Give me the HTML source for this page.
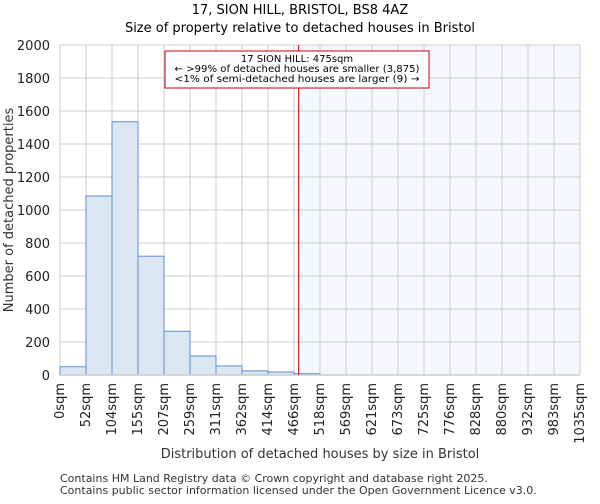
<!DOCTYPE html>
<html><head><meta charset="utf-8"><style>
body{margin:0;background:#fff;font-family:"DejaVu Sans","Liberation Sans",sans-serif}
</style></head><body>
<svg id="c" width="600" height="500" xmlns="http://www.w3.org/2000/svg" font-family="DejaVu Sans, Liberation Sans, sans-serif"></svg>
<script>
const edges=[0,52,104,155,207,259,311,362,414,466,518,569,621,673,725,776,828,880,932,983,1035];
const counts=[50,1085,1535,720,265,115,55,25,18,8,0,0,0,0,0,0,0,0,0,0];
const yTicks=[0,200,400,600,800,1000,1200,1400,1600,1800,2000];
const marker=475;
const NS="http://www.w3.org/2000/svg";
const svg=document.getElementById('c');
const L=60,R=580,T=45,B=375,nb=20;
const xb=i=>L+i*(R-L)/nb;
const xv=v=>L+v/1035*(R-L);
const y=v=>B-v/2000*(B-T);
function mk(t,a,txt){const e=document.createElementNS(NS,t);for(const k in a)e.setAttribute(k,a[k]);if(txt!==undefined)e.textContent=txt;svg.appendChild(e);return e;}
let e;
e=mk('rect',{x:xv(marker),y:T,width:R-xv(marker),height:B-T,fill:'#f4f7fd'});


yTicks.forEach(v=>{e=mk('line',{x1:L,x2:R,y1:y(v),y2:y(v),stroke:'#cccccc','stroke-width':1});


e=mk('text',{x:L-10,y:y(v)+5,'text-anchor':'end','font-size':13,fill:'#222'},v);

});
for(let i=0;i<=nb;i++){e=mk('line',{x1:xb(i),x2:xb(i),y1:T,y2:B,stroke:'#cccccc','stroke-width':1});

}
counts.forEach((c,i)=>{if(c<=0)return;e=mk('rect',{x:xb(i),y:y(c),width:xb(i+1)-xb(i),height:B-y(c),fill:'#dce6f3',stroke:'#5b8fd6','stroke-width':1});

});
e=mk('line',{x1:L,x2:R,y1:B,y2:B,stroke:'#cccccc','stroke-width':1.5});


edges.forEach((v,i)=>{const xx=xb(i);e=mk('text',{x:xx+4,y:B+8,'text-anchor':'end','font-size':13,fill:'#222',transform:`rotate(-90 ${xx+4} ${B+8})`},v+'sqm');

});
e=mk('line',{x1:xv(marker),x2:xv(marker),y1:T,y2:B,stroke:'#cc0000','stroke-width':1});


e=mk('rect',{x:165,y:51,width:264,height:37,fill:'#fff',stroke:'#cc0000','stroke-width':1});


[['17 SION HILL: 475sqm',62],['← >99% of detached houses are smaller (3,875)',72],['<1% of semi-detached houses are larger (9) →',82]].forEach(([t,yy])=>{e=mk('text',{x:297,y:yy,'text-anchor':'middle','font-size':10,fill:'#000',textLength:t.length>25?245:0,lengthAdjust:'spacingAndGlyphs'},t);
if(t.length<=25)e.removeAttribute('textLength');

});
e=mk('text',{x:300,y:14,'text-anchor':'middle','font-size':13,fill:'#000'},'17, SION HILL, BRISTOL, BS8 4AZ');


e=mk('text',{x:300,y:32,'text-anchor':'middle','font-size':13,fill:'#000'},'Size of property relative to detached houses in Bristol');


e=mk('text',{x:13,y:210,'text-anchor':'middle','font-size':13,fill:'#333',transform:'rotate(-90 13 210)'},'Number of detached properties');


e=mk('text',{x:320,y:458,'text-anchor':'middle','font-size':13,fill:'#333'},'Distribution of detached houses by size in Bristol');


e=mk('text',{x:60,y:482,'font-size':11,fill:'#333'},'Contains HM Land Registry data © Crown copyright and database right 2025.');


e=mk('text',{x:60,y:494,'font-size':11,fill:'#333'},'Contains public sector information licensed under the Open Government Licence v3.0.');


</script>
</body></html>
